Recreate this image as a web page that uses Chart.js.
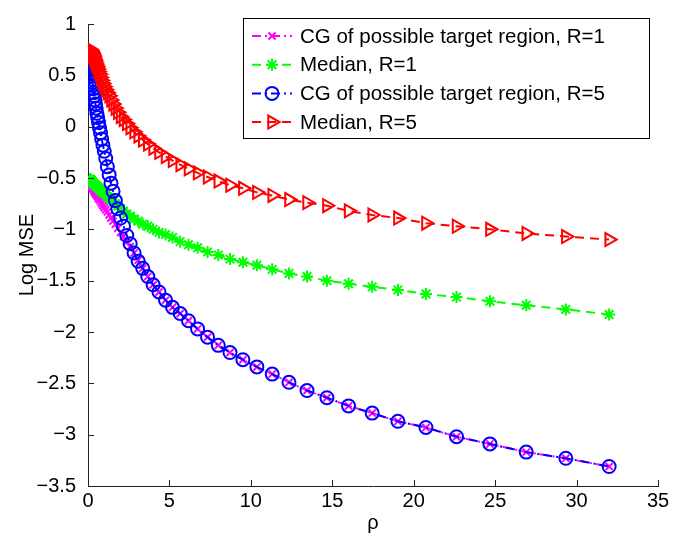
<!DOCTYPE html>
<html>
<head>
<meta charset="utf-8">
<script src="https://cdn.jsdelivr.net/npm/chart.js@4.4.1/dist/chart.umd.min.js"></script>
<style>
  html, body { margin: 0; padding: 0; background: #fff; }
  canvas { display: block; }
</style>
</head>
<body>
<canvas id="chart" width="698" height="538"></canvas>
<script>
// rho values (x axis)
const rho = [0.125, 0.136, 0.149, 0.162, 0.177, 0.193, 0.210, 0.229, 0.250, 0.273,
  0.297, 0.324, 0.354, 0.386, 0.420, 0.459, 0.500, 0.545, 0.595, 0.648,
  0.707, 0.771, 0.841, 0.917, 1.00, 1.09, 1.19, 1.30, 1.41, 1.54,
  1.68, 1.83, 2.00, 2.18, 2.38, 2.59, 2.83, 3.08, 3.36, 3.67,
  4.00, 4.36, 4.76, 5.19, 5.66, 6.17, 6.73, 7.34, 8.00, 8.72,
  9.51, 10.37, 11.31, 12.34, 13.45, 14.67, 16.00, 17.45, 19.03, 20.75,
  22.63, 24.68, 26.91, 29.34, 32.00];

const cgR1 = [-0.545, -0.55, -0.555, -0.56, -0.565, -0.57, -0.575, -0.58, -0.59, -0.595,
  -0.60, -0.61, -0.62, -0.63, -0.64, -0.65, -0.66, -0.67, -0.68, -0.70,
  -0.71, -0.73, -0.75, -0.77, -0.79, -0.81, -0.83, -0.86, -0.89, -0.92,
  -0.95, -0.99, -1.03, -1.07, -1.12, -1.17, -1.23, -1.30, -1.38, -1.46,
  -1.54, -1.61, -1.69, -1.76, -1.82, -1.89, -1.97, -2.05, -2.13, -2.20,
  -2.27, -2.34, -2.41, -2.49, -2.57, -2.64, -2.72, -2.79, -2.87, -2.93,
  -3.02, -3.09, -3.17, -3.23, -3.31];

const medR1 = [-0.51, -0.515, -0.515, -0.52, -0.52, -0.525, -0.53, -0.53, -0.535, -0.54,
  -0.545, -0.55, -0.555, -0.56, -0.565, -0.57, -0.575, -0.58, -0.59, -0.60,
  -0.61, -0.62, -0.63, -0.64, -0.65, -0.66, -0.68, -0.69, -0.71, -0.73,
  -0.75, -0.77, -0.80, -0.82, -0.85, -0.87, -0.90, -0.92, -0.95, -0.97,
  -1.00, -1.03, -1.05, -1.08, -1.12, -1.15, -1.18, -1.22, -1.25, -1.29,
  -1.32, -1.35, -1.39, -1.43, -1.46, -1.50, -1.53, -1.56, -1.59, -1.63,
  -1.66, -1.70, -1.74, -1.78, -1.83];

const cgR5 = [0.60, 0.59, 0.58, 0.57, 0.55, 0.53, 0.51, 0.49, 0.46, 0.43,
  0.40, 0.37, 0.33, 0.30, 0.26, 0.22, 0.18, 0.13, 0.09, 0.04,
  -0.01, -0.06, -0.12, -0.18, -0.24, -0.31, -0.39, -0.47, -0.55, -0.63,
  -0.72, -0.80, -0.89, -0.97, -1.06, -1.14, -1.23, -1.31, -1.38, -1.46,
  -1.54, -1.61, -1.69, -1.76, -1.82, -1.89, -1.97, -2.05, -2.13, -2.20,
  -2.27, -2.34, -2.41, -2.49, -2.57, -2.64, -2.72, -2.79, -2.87, -2.93,
  -3.02, -3.09, -3.17, -3.23, -3.31];

const medR5 = [0.755, 0.75, 0.745, 0.74, 0.735, 0.73, 0.725, 0.72, 0.715, 0.705,
  0.695, 0.685, 0.67, 0.655, 0.64, 0.62, 0.60, 0.58, 0.56, 0.535,
  0.51, 0.48, 0.45, 0.42, 0.39, 0.36, 0.33, 0.30, 0.26, 0.22,
  0.18, 0.14, 0.10, 0.07, 0.03, -0.01, -0.05, -0.09, -0.13, -0.17,
  -0.21, -0.25, -0.29, -0.33, -0.37, -0.41, -0.45, -0.49, -0.53, -0.57,
  -0.60, -0.64, -0.67, -0.71, -0.74, -0.77, -0.82, -0.86, -0.89, -0.94,
  -0.97, -1.00, -1.04, -1.07, -1.10];

const xTicks = [0, 5, 10, 15, 20, 25, 30, 35];
const yTicks = [1, 0.5, 0, -0.5, -1, -1.5, -2, -2.5, -3, -3.5];

const FONT = 'Liberation Sans, Arial, Helvetica, sans-serif';
const DASH = [9, 6];
const DASHDOT = [9, 4, 2, 4];

const pts = ys => rho.map((x, i) => ({ x: x, y: ys[i] }));

function series(label, ys, color, dash, style, radius, rotation, order) {
    return {
        label: label,
        data: pts(ys),
        borderColor: color,
        borderWidth: 2,
        borderDash: dash,
        pointStyle: style,
        pointRadius: radius,
        pointRotation: rotation,
        pointBorderColor: color,
        pointBackgroundColor: 'rgba(0,0,0,0)',
        pointBorderWidth: 2,
        fill: false,
        tension: 0,
        order: order
    };
}

// inward tick marks, MATLAB style
const inwardTicks = {
    id: 'inwardTicks',
    afterDatasetsDraw(chart) {
        const { ctx, chartArea, scales } = chart;
        ctx.save();
        ctx.strokeStyle = '#222';
        ctx.lineWidth = 1;
        ctx.beginPath();
        scales.x.ticks.forEach(t => {
            const px = Math.round(scales.x.getPixelForValue(t.value)) + 0.5;
            ctx.moveTo(px, chartArea.bottom);
            ctx.lineTo(px, chartArea.bottom - 6);
        });
        scales.y.ticks.forEach(t => {
            const py = Math.round(scales.y.getPixelForValue(t.value)) + 0.5;
            ctx.moveTo(chartArea.left, py);
            ctx.lineTo(chartArea.left + 6, py);
        });
        ctx.stroke();
        ctx.restore();
    }
};

// boxed legend with line + marker samples
const boxLegend = {
    id: 'boxLegend',
    afterDraw(chart) {
        const ctx = chart.ctx;
        const bx = 243.5, by = 18.5, bw = 406, bh = 120;
        ctx.save();
        ctx.fillStyle = '#fff';
        ctx.fillRect(bx, by, bw, bh);
        ctx.strokeStyle = '#000';
        ctx.lineWidth = 1;
        ctx.setLineDash([]);
        ctx.strokeRect(bx, by, bw, bh);
        ctx.font = '20.5px ' + FONT;
        ctx.textBaseline = 'middle';
        chart.data.datasets.forEach((ds, i) => {
            const cy = 36 + i * 28.7;
            ctx.strokeStyle = ds.borderColor;
            ctx.lineWidth = 2;
            ctx.setLineDash(ds.borderDash);
            ctx.beginPath();
            ctx.moveTo(252, cy);
            ctx.lineTo(292, cy);
            ctx.stroke();
            ctx.setLineDash([]);
            ctx.fillStyle = 'rgba(0,0,0,0)';
            Chart.helpers.drawPoint(ctx, {
                pointStyle: ds.pointStyle,
                radius: ds.pointRadius,
                rotation: ds.pointRotation,
                borderWidth: 2
            }, 272, cy);
            ctx.fillStyle = '#000';
            ctx.fillText(ds.label, 300, cy + 1);
        });
        ctx.restore();
    }
};

const ctx = document.getElementById('chart').getContext('2d');
new Chart(ctx, {
    type: 'line',
    data: {
        datasets: [
            series('CG of possible target region, R=1', cgR1, '#ff00ff', DASHDOT, 'crossRot', 5, 0, 4),
            series('Median, R=1', medR1, '#00ff00', DASH, 'star', 6, 0, 3),
            series('CG of possible target region, R=5', cgR5, '#0000ff', DASHDOT, 'circle', 6.5, 0, 2),
            series('Median, R=5', medR5, '#ff0000', DASH, 'triangle', 7.5, 90, 1)
        ]
    },
    options: {
        responsive: false,
        animation: false,
        devicePixelRatio: 1,
        layout: { padding: { top: 12, right: 40, left: 0, bottom: 0 } },
        plugins: {
            legend: { display: false },
            tooltip: { enabled: false }
        },
        scales: {
            x: {
                type: 'linear',
                min: 0,
                max: 35,
                afterBuildTicks: s => { s.ticks = xTicks.map(v => ({ value: v })); },
                afterFit: s => { s.height = 52; },
                grid: { display: false, drawTicks: false, tickLength: 0 },
                border: { display: true, color: '#222', width: 1 },
                ticks: { color: '#000', font: { family: FONT, size: 20 }, padding: 3, maxRotation: 0 },
                title: { display: true, text: 'ρ', color: '#000', font: { family: FONT, size: 20 }, padding: { top: 0, bottom: 3 } }
            },
            y: {
                type: 'linear',
                min: -3.5,
                max: 1,
                afterBuildTicks: s => { s.ticks = yTicks.map(v => ({ value: v })); },
                afterFit: s => { s.width = 88; },
                grid: { display: false, drawTicks: false, tickLength: 0 },
                border: { display: true, color: '#222', width: 1 },
                ticks: {
                    color: '#000',
                    font: { family: FONT, size: 20 },
                    padding: 12,
                    callback: v => v < 0 ? '\u2212' + Math.abs(v) : String(v)
                },
                title: { display: true, text: 'Log MSE', color: '#000', font: { family: FONT, size: 20 }, padding: { top: 15, bottom: 0 } }
            }
        }
    },
    plugins: [inwardTicks, boxLegend]
});
</script>
</body>
</html>
